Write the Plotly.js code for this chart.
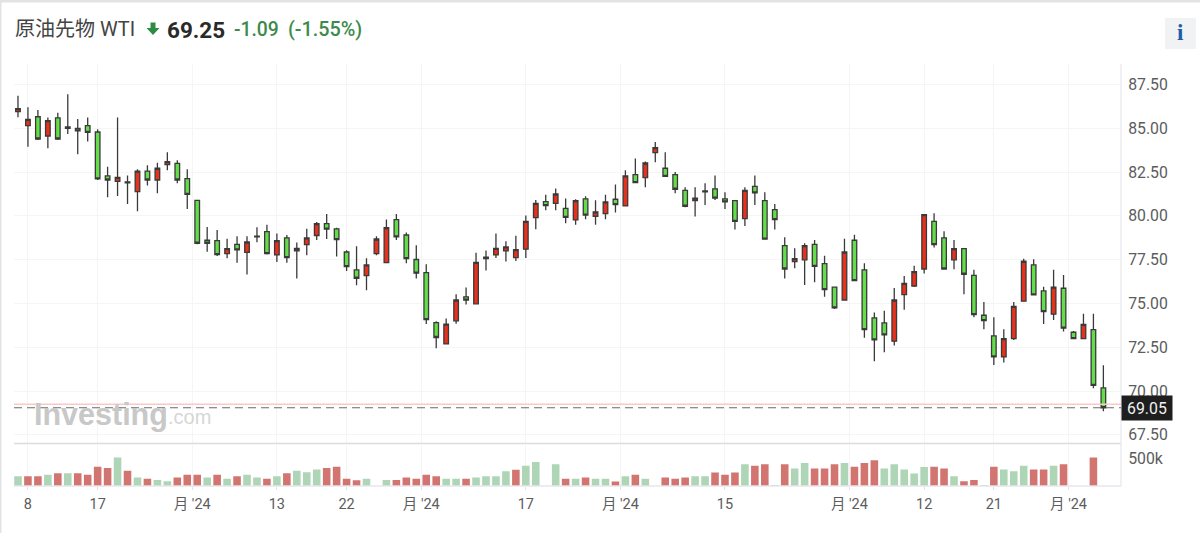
<!DOCTYPE html>
<html>
<head>
<meta charset="utf-8">
<script src="https://cdn.plot.ly/plotly-3.0.1.min.js"></script>
<style>html,body{margin:0;padding:0;background:#fff;overflow:hidden}#c{width:1200px;height:533px}</style>
</head>
<body>
<div id="c"></div>
<script>
const open_ = [85.95,85.15,85.66,84.56,85.59,85.08,85.00,85.15,84.79,82.28,81.97,81.94,81.39,82.56,82.05,82.93,83.00,82.13,80.89,78.61,78.59,77.85,78.38,77.92,78.84,79.10,77.77,78.74,78.00,78.36,78.88,79.56,79.26,77.94,76.92,76.59,77.85,77.33,79.79,78.91,77.51,76.76,73.91,72.69,74.01,75.38,74.98,77.64,77.77,78.00,77.62,78.10,79.90,80.81,80.72,80.43,79.77,80.97,79.98,80.13,80.95,80.57,82.36,82.18,83.61,82.72,82.36,81.46,80.87,81.42,81.54,80.97,80.87,79.84,81.69,80.87,80.36,78.30,77.39,77.49,78.38,77.28,75.93,75.20,78.61,76.92,74.18,73.89,72.85,75.51,76.00,76.97,79.69,78.74,77.49,78.13,76.61,74.33,73.15,71.95,73.00,75.13,77.20,75.72,74.39,75.87,73.36,73.00,73.51,70.18];
const high = [86.86,86.20,86.05,85.61,85.89,86.94,85.53,85.61,84.94,82.81,85.61,82.30,82.66,82.89,83.04,83.63,83.17,82.66,80.91,79.37,79.20,78.70,78.84,78.84,79.35,79.50,78.99,78.91,78.48,79.27,79.65,80.11,79.33,78.04,78.27,77.58,78.84,79.79,80.11,79.05,78.32,77.24,73.99,74.14,75.53,75.91,77.89,78.02,78.99,78.55,78.86,80.02,80.91,81.20,81.56,80.99,80.95,81.12,80.89,81.20,81.79,82.60,83.27,83.10,84.22,83.63,82.51,81.63,81.63,81.86,82.30,81.35,80.91,81.63,82.30,81.35,80.68,78.78,78.15,78.44,78.63,77.73,75.96,78.70,78.93,77.30,74.48,74.58,75.89,76.57,77.16,80.11,80.15,79.12,78.63,78.15,76.93,75.09,74.21,73.53,75.09,77.56,77.52,75.96,76.93,76.63,73.43,74.42,74.42,71.47];
const low = [85.63,83.95,84.33,83.86,84.33,84.68,83.52,84.24,82.05,81.06,81.14,80.68,80.26,81.73,81.29,82.60,81.86,80.40,78.38,77.96,77.71,77.58,77.32,76.65,78.49,77.79,77.37,77.32,76.42,77.75,78.63,78.68,77.68,76.86,76.04,75.76,77.75,77.30,78.63,77.30,76.42,73.83,72.45,72.66,73.85,74.94,74.96,76.88,77.60,77.39,77.43,77.60,79.24,80.32,80.32,79.58,79.50,79.81,79.50,79.81,80.19,80.55,81.86,81.63,83.06,82.24,81.29,80.49,79.96,80.62,80.91,80.40,79.22,79.43,80.62,78.65,79.22,76.42,77.01,76.06,76.21,75.39,74.69,75.18,76.29,73.04,71.70,72.22,72.60,74.65,75.94,76.71,78.19,76.93,76.95,75.53,74.21,73.53,71.49,71.63,72.92,75.11,75.47,73.83,74.06,73.40,72.98,72.98,70.16,68.85];
const close_ = [86.12,85.51,84.39,85.44,84.39,85.00,84.85,84.77,82.11,82.05,82.20,81.88,82.56,82.05,82.72,83.10,82.05,81.23,78.44,78.44,77.79,78.13,78.06,78.51,78.80,77.85,78.59,77.62,78.15,78.74,79.56,79.24,78.65,77.11,76.44,77.20,78.68,79.33,78.80,77.56,76.73,74.08,73.06,73.82,75.20,75.19,77.35,77.56,78.15,78.23,78.08,79.69,80.72,80.59,81.25,79.92,80.87,80.04,80.23,80.80,80.64,82.28,81.90,83.02,83.90,82.26,81.52,80.55,81.02,81.37,81.02,80.80,79.69,81.46,81.31,78.67,79.79,76.97,77.56,78.30,77.12,75.79,74.75,77.94,76.31,73.51,72.92,73.21,75.20,76.15,76.82,80.07,78.36,76.97,78.13,76.67,74.37,74.02,71.95,73.00,74.84,77.41,75.49,74.54,75.94,73.59,73.00,73.81,70.33,69.05];
const volumeK = [179,179,179,204,234,234,234,204,352,327,518,278,154,130,111,86,154,204,204,154,204,130,179,204,154,130,179,234,278,253,302,327,352,130,105,130,null,111,111,154,130,204,179,130,130,130,154,179,179,271,296,370,438,null,395,130,130,154,130,130,80,179,204,130,null,154,130,154,179,179,247,204,247,395,370,395,19,395,321,420,321,321,395,420,352,420,469,321,395,302,228,346,352,321,179,86,111,19,352,302,271,370,302,302,370,395,null,null,518,null];
const volumeDir = ["d","u","u","d","u","d","u","u","u","u","d","u","d","u","d","d","u","u","u","d","u","d","u","d","d","u","d","u","d","d","d","u","u","u","u","d","","d","u","u","u","u","u","d","d","u","d","d","d","d","u","d","d","","d","u","d","u","d","d","u","d","u","d","","u","u","u","d","d","u","u","u","d","u","u","d","u","d","d","u","u","u","d","u","u","u","d","d","d","d","d","u","u","d","u","u","d","u","d","d","d","u","u","d","u","","","u",""];
const candleIndex = open_.map((_, i) => i);
const xTickVals = [1,8,17.5,26,33,40.5,51,60.5,71,83.5,91,98,105.5];
const xTickText = ["8","17","月 '24","13","22","月 '24","17","月 '24","15","月 '24","12","21","月 '24"];
const yTickVals = [67.5,70,72.5,75,77.5,80,82.5,85,87.5];
const yTickText = ["67.50","70.00","72.50","75.00","77.50","80.00","82.50","85.00","87.50"];
const lastPrice = 69.25, lastClose = 69.05;
const titleText = "原油先物 WTI", priceText = "69.25", changeText = "-1.09", pctText = "(-1.55%)";

const L = 14, R = 1121, T = 64, B = 486, W = R - L, H = B - T;
const px = v => (v - L) / W, py = v => (B - v) / H;
const FONT = "Roboto, 'Noto Sans CJK JP', sans-serif";
const GRID = "#f5f5f6";
const txt = (text, x, y, size, color, extra) => Object.assign({
  text, x: px(x), y: py(y), xref: "paper", yref: "paper", showarrow: false,
  xanchor: "left", yanchor: "middle", font: {family: FONT, size, color}, borderpad: 0
}, extra || {});
const rect = (x0, y0, x1, y1, fill) => ({type: "rect", xref: "paper", yref: "paper", x0: px(x0), x1: px(x1), y0: py(y0), y1: py(y1), fillcolor: fill, line: {width: 0}});
const hline = (y, x0, x1, color, width) => ({type: "line", xref: "paper", yref: "paper", x0: px(x0), x1: px(x1), y0: py(y), y1: py(y), line: {color, width}});

const traces = [
  {type: "bar", x: candleIndex, y: volumeK, xaxis: "x", yaxis: "y2", width: 0.76,
   marker: {color: volumeDir.map(d => d === "u" ? "#d27470" : "#aed5b5"), line: {width: 0}}, hoverinfo: "skip", showlegend: false},
  {type: "candlestick", x: candleIndex, open: open_, high, low, close: close_, xaxis: "x", yaxis: "y",
   whiskerwidth: 0, showlegend: false,
   increasing: {fillcolor: "#e8301c", line: {color: "#3a3a3a", width: 1.3}},
   decreasing: {fillcolor: "#63de4a", line: {color: "#3a3a3a", width: 1.3}}}
];

const layout = {
  width: 1200, height: 533, margin: {l: L, r: 1200 - R, t: T, b: 533 - B, pad: 0},
  paper_bgcolor: "#fff", plot_bgcolor: "#fff", showlegend: false, boxgap: 0.34,
  font: {family: FONT, color: "#555"}, bargap: 0.24,
  xaxis: {range: [-0.40, 110.77], anchor: "y2", domain: [0, 1], rangeslider: {visible: false},
    tickmode: "array", tickvals: xTickVals, ticktext: xTickText, showgrid: true, gridcolor: GRID,
    gridwidth: 1, zeroline: false, showline: false, ticks: "outside", ticklen: 3, tickcolor: "#e2e2ea",
    tickfont: {family: FONT, size: 14.5, color: "#5c5c5c"}, ticklabelstandoff: 2},
  yaxis: {range: [67.04, 88.67], domain: [0.102, 1], side: "right", tickmode: "array",
    tickvals: yTickVals, ticktext: yTickText, showgrid: true, gridcolor: GRID, gridwidth: 1,
    zeroline: false, showline: false, ticks: "outside", ticklen: 3, tickcolor: "#fff",
    tickfont: {family: FONT, size: 15.8, color: "#5c5c5c"}, ticklabelstandoff: 0, ticklabelshift: 1.5},
  yaxis2: {range: [0, 750], domain: [0, 0.0975], side: "right", tickmode: "array",
    tickvals: [500], ticktext: ["500k"], showgrid: false,
    zeroline: false, showline: false, ticks: "outside", ticklen: 3, tickcolor: "#fff",
    tickfont: {family: FONT, size: 15.8, color: "#5c5c5c"}, ticklabelstandoff: 0},
  shapes: [
    rect(0, 0, 1200, 2.5, "#e3e3e3"),
    rect(0, 0, 1.5, 533, "#e3e3e3"),
    rect(1165, 18, 1196, 49, "#f1f2f4"),
    hline(443.5, L, R, "#dcdcdc", 1.6),
    hline(486, L, R, "#e6e6ef", 1.4),
    {type: "line", xref: "paper", yref: "paper", x0: 1, x1: 1, y0: 0, y1: 1, line: {color: "#e8e8ef", width: 1.2}},
    {type: "line", xref: "paper", yref: "y", x0: 0, x1: 1, y0: lastPrice, y1: lastPrice, line: {color: "#fac9c6", width: 1.6}},
    {type: "line", xref: "paper", yref: "y", x0: 0, x1: 1, y0: lastClose, y1: lastClose, line: {color: "#6a6a6a", width: 1.2, dash: "8px,5px"}},
    {type: "path", xref: "paper", yref: "paper", fillcolor: "#2e8b46", line: {width: 0},
     path: `M ${px(150.5)} ${py(22.5)} L ${px(155.5)} ${py(22.5)} L ${px(155.5)} ${py(28)} L ${px(159.5)} ${py(28)} L ${px(153)} ${py(35)} L ${px(146.5)} ${py(28)} L ${px(150.5)} ${py(28)} Z`}
  ],
  annotations: [
    txt(titleText, 14, 29, 20, "#444"),
    txt(priceText, 166, 30, 22.5, "#2a2a2a", {font: {family: FONT, size: 22.5, color: "#2a2a2a", weight: 700}}),
    txt(changeText, 233, 29.5, 19.3, "#3d8a4c", {font: {family: FONT, size: 19.3, color: "#3d8a4c", weight: 500}}),
    txt(pctText, 287, 29.5, 19.8, "#3d8a4c", {font: {family: FONT, size: 19.8, color: "#3d8a4c", weight: 500}}),
    txt("i", 1180.5, 33, 23, "#1f5ca8", {xanchor: "center", font: {family: "'Liberation Serif', serif", size: 23, color: "#1f5ca8", weight: 700}}),
    txt("Investing", 33, 414, 30.5, "#c9c9c9", {font: {family: "'Liberation Sans', sans-serif", size: 30.5, color: "#c8c8c8", weight: 700}}),
    txt(".com", 167, 417, 20, "#d6d6d6", {font: {family: "'Liberation Sans', sans-serif", size: 20, color: "#d6d6d6"}}),
    {text: "69.05", xref: "paper", yref: "y", x: 1, y: lastClose, xanchor: "left", yanchor: "middle",
     showarrow: false, bgcolor: "#1e1e1e", width: 50, height: 24, align: "center", borderpad: 0,
     font: {family: FONT, size: 15.8, color: "#f2f2f2"}}
  ]
};
Plotly.newPlot("c", traces, layout, {displayModeBar: false, staticPlot: true});
</script>
</body>
</html>
